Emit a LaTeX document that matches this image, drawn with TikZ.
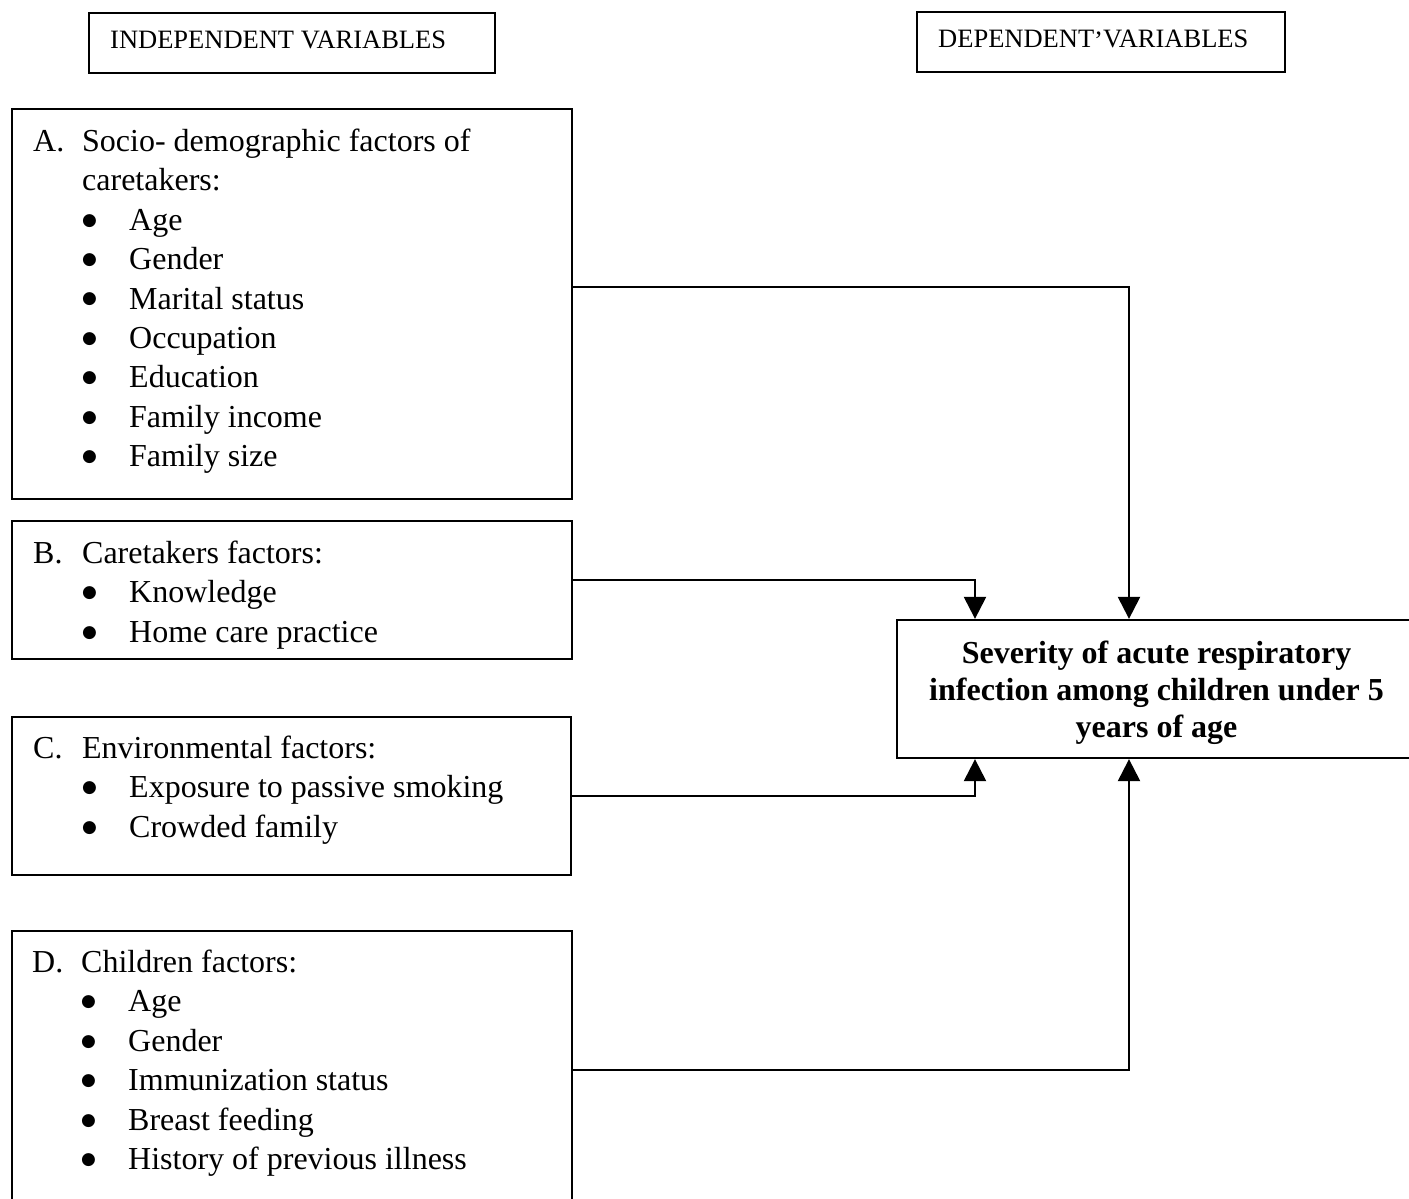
\documentclass[tikz,border=0pt]{standalone}
\usepackage{fontspec}
\setmainfont{Liberation Serif}
\newfontfamily\dejavu{DejaVu Sans}
\usetikzlibrary{arrows.meta}
\newcommand{\lead}[1]{\makebox[49pt][l]{#1}}
\newcommand{\blt}{\raisebox{5pt}{\dejavu\fontsize{17}{17}\selectfont ●}}
\newcommand{\itm}[1]{\hspace{49pt}\makebox[47pt][l]{\blt}#1}
\begin{document}
\begin{tikzpicture}[x=1pt,y=-1pt,
  box/.style={draw, line width=2.3pt, rectangle, inner sep=0pt},
  arr/.style={line width=2.3pt, -{Triangle[width=22pt,length=22pt]}},
  body/.style={font=\fontsize{32}{39.5}\selectfont, inner sep=0pt, anchor=base west},
  head/.style={font=\fontsize{26.5}{32}\selectfont, inner sep=0pt, anchor=base west}]
\useasboundingbox (0,0) rectangle (1409,1199);
\clip (0,0) rectangle (1409,1199);
\fill[white] (0,0) rectangle (1409,1199);

% header boxes
\node[box, minimum width=406pt, minimum height=60pt] (IND) at (292,43) {};
\node[head] (INDt) at (110,49) {INDEPENDENT VARIABLES};
\node[box, minimum width=368pt, minimum height=60pt] (DEP) at (1101,42) {};
\node[head] (DEPt) at (938,48) {DEPENDENT\raisebox{-2pt}{’}VARIABLES};

% factor boxes
\node[box, minimum width=560pt, minimum height=390pt] (A) at (292,304) {};
\node[body] (At) at (33,151) {\begin{tabular}[t]{@{}l@{}}
\lead{A.}Socio- demographic factors of\\
\hspace{49pt}caretakers:\\
\itm{Age}\\
\itm{Gender}\\
\itm{Marital status}\\
\itm{Occupation}\\
\itm{Education}\\
\itm{Family income}\\
\itm{Family size}
\end{tabular}};

\node[box, minimum width=560pt, minimum height=138pt] (B) at (292,590) {};
\node[body] (Bt) at (33,563) {\begin{tabular}[t]{@{}l@{}}
\lead{B.}Caretakers factors:\\
\itm{Knowledge}\\
\itm{Home care practice}
\end{tabular}};

\node[box, minimum width=559pt, minimum height=158pt] (C) at (291.5,796) {};
\node[body] (Ct) at (33,758) {\begin{tabular}[t]{@{}l@{}}
\lead{C.}Environmental factors:\\
\itm{Exposure to passive smoking}\\
\itm{Crowded family}
\end{tabular}};

\node[box, minimum width=560pt, minimum height=278pt] (D) at (292,1070) {};
\node[body] (Dt) at (32,972) {\begin{tabular}[t]{@{}l@{}}
\lead{D.}Children factors:\\
\itm{Age}\\
\itm{Gender}\\
\itm{Immunization status}\\
\itm{Breast feeding}\\
\itm{History of previous illness}
\end{tabular}};

% target box
\node[box, minimum width=519pt, minimum height=138pt] (T) at (1156.5,689) {};
\node[align=center, inner sep=0pt, font=\bfseries\fontsize{32}{37}\selectfont]
  (Tt) at (1156.5,693)
  {Severity of acute respiratory\\infection among children under 5\\years of age};

% connectors
\draw[arr] ([yshift=17pt]A.east) -| ([xshift=-27.5pt]T.north);
\draw[arr] ([yshift=10pt]B.east) -| ([xshift=-181.5pt]T.north);
\draw[arr] (C.east) -| ([xshift=-181.5pt]T.south);
\draw[arr] (D.east) -| ([xshift=-27.5pt]T.south);
\end{tikzpicture}
\end{document}
